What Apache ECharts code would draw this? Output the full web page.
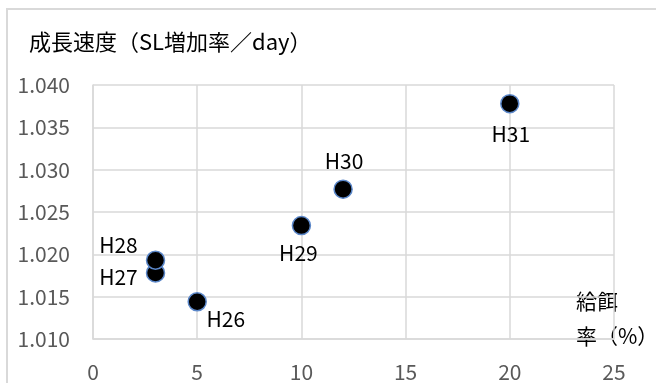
<!DOCTYPE html>
<html>
<head>
<meta charset="utf-8">
<style>
  html, body { margin: 0; padding: 0; background: #fff; }
  #chart { width: 656px; height: 383px; }
</style>
<script src="https://cdn.jsdelivr.net/npm/echarts@6/dist/echarts.min.js"></script>
</head>
<body>
<div id="chart"></div>
<script>
// Year labels, feeding rate (%) and growth rate (SL increase per day)
const yearLabels = ['H26', 'H27', 'H28', 'H29', 'H30', 'H31'];
const feedRate = [5, 3, 3, 10, 12, 20];
const growthRate = [1.0144, 1.0178, 1.0193, 1.0234, 1.0277, 1.0378];

const yTitle = '成長速度（SL増加率／day）';
const xTitle = '給餌\n率（%）';

const FONT = '"Noto Sans CJK JP", "Noto Sans", sans-serif';

// Where each point's label sits relative to its marker
const labelStyle = {
  H26: { position: [19, 17], align: 'left', verticalAlign: 'top' },
  H27: { position: 'left', distance: 8, offset: [0, 4] },
  H28: { position: 'left', distance: 8, offset: [0, -15] },
  H29: { position: 'bottom', distance: 7, offset: [-3, 0] },
  H30: { position: 'top', distance: 8, offset: [1, 0] },
  H31: { position: 'bottom', distance: 10, offset: [1, 0] }
};

const points = yearLabels.map((name, i) => ({
  name: name,
  value: [feedRate[i], growthRate[i]],
  label: Object.assign({ show: true }, labelStyle[name])
}));

const chart = echarts.init(document.getElementById('chart'), null, { renderer: 'canvas' });

chart.setOption({
  animation: false,
  backgroundColor: '#ffffff',
  textStyle: { fontFamily: FONT },
  grid: { left: 93, right: 42, top: 85, bottom: 44 },
  xAxis: {
    type: 'value',
    min: 0,
    max: 25,
    interval: 5,
    axisLine: { show: true, lineStyle: { color: '#d9d9d9', width: 1.5 } },
    axisTick: { show: false },
    axisLabel: { color: '#595959', fontSize: 21, fontFamily: FONT, margin: 23 },
    splitLine: { show: true, lineStyle: { color: '#d9d9d9', width: 1.5 } }
  },
  yAxis: {
    type: 'value',
    min: 1.010,
    max: 1.040,
    interval: 0.005,
    axisLine: { show: true, lineStyle: { color: '#d9d9d9', width: 1.5 } },
    axisTick: { show: false },
    axisLabel: {
      color: '#595959', fontSize: 21, fontFamily: FONT, margin: 23,
      formatter: v => v.toFixed(3)
    },
    splitLine: { show: true, lineStyle: { color: '#d9d9d9', width: 1.5 } }
  },
  series: [{
    type: 'scatter',
    data: points,
    symbol: 'circle',
    symbolSize: 18,
    itemStyle: { color: '#000000', borderColor: '#5b87c9', borderWidth: 1.5, opacity: 1 },
    label: {
      color: '#000000',
      fontSize: 21,
      fontFamily: FONT,
      formatter: p => p.name
    }
  }],
  graphic: [
    {
      type: 'rect',
      shape: { x: 7, y: 9, width: 700, height: 420 },
      style: { fill: 'none', stroke: '#d9d9d9', lineWidth: 2 },
      silent: true
    },
    {
      type: 'text',
      left: 29,
      top: 31,
      style: { text: yTitle, fill: '#000000', font: '22px ' + FONT }
    },
    {
      type: 'text',
      left: 576,
      top: 284,
      style: { text: xTitle, fill: '#000000', font: '21px ' + FONT, lineHeight: 35 }
    }
  ]
});
</script>
</body>
</html>
